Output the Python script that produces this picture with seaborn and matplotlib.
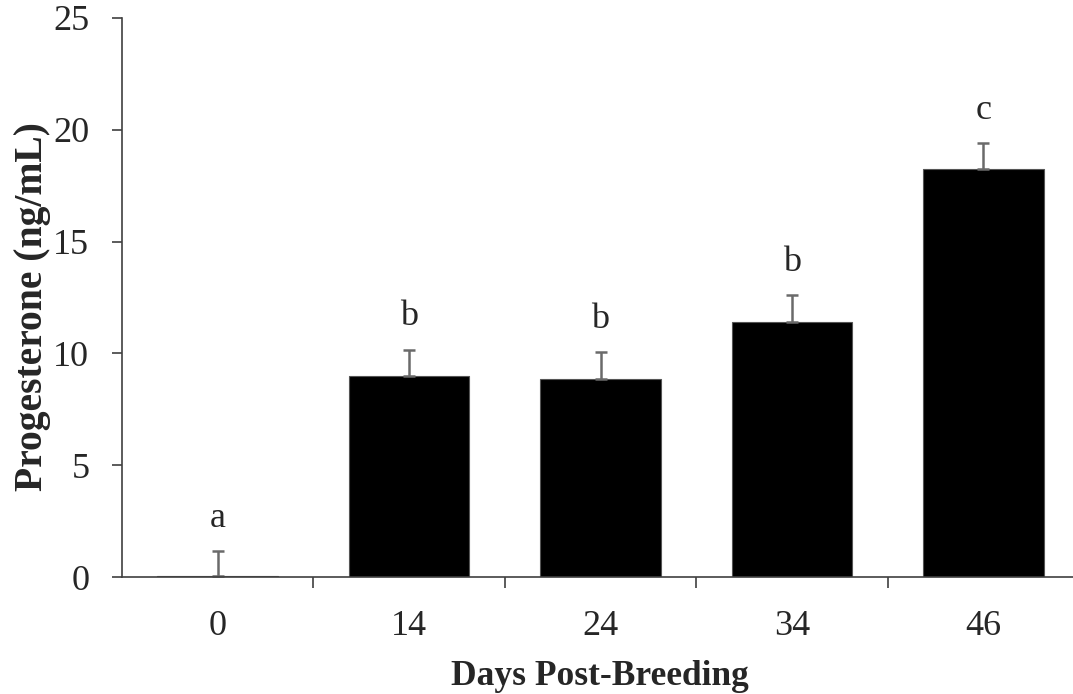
import matplotlib
matplotlib.use("Agg")
import matplotlib.pyplot as plt
import seaborn as sns
import pandas as pd
import numpy as np
from matplotlib.ticker import FixedLocator

days = ["0", "14", "24", "34", "46"]
progesterone = [0.05, 9.0, 8.85, 11.4, 18.25]
sem = [1.1, 1.15, 1.2, 1.2, 1.15]
letters = ["a", "b", "b", "b", "c"]

sns.set_style("white")
plt.rcParams['font.family'] = ['Liberation Serif', 'DejaVu Serif']

df = pd.DataFrame({"Day": days, "P4": progesterone})

fig = plt.figure(figsize=(10.73, 6.94), dpi=100)
ax = fig.add_axes([122/1073, 117/694, 957/1073, 559/694])

sns.barplot(data=df, x="Day", y="P4", color="black", width=0.63,
            edgecolor="#555555", linewidth=0.8, ax=ax, saturation=1)

x = np.arange(len(days))
ax.errorbar(x, progesterone, yerr=[np.zeros(len(sem)), sem], fmt="none",
            ecolor="#6a6a6a", elinewidth=1.8, capsize=4.6, capthick=1.8)

for xi, yi, ei, lt in zip(x, progesterone, sem, letters):
    ax.annotate(lt, (xi, yi + ei), xytext=(0, 12), textcoords="offset points",
                ha="center", va="bottom", fontsize=26)

ax.set_xlim(-0.5, 4.5)
ax.set_ylim(0, 25)
ax.set_yticks([0, 5, 10, 15, 20, 25])
ax.tick_params(axis="y", which="major", direction="out", length=7.5, width=1.2,
               color="#404040", labelsize=26, left=True, pad=16)
ax.tick_params(axis="x", which="major", length=0, labelsize=26, pad=23.5)
ax.xaxis.set_minor_locator(FixedLocator([0.5, 1.5, 2.5, 3.5]))
ax.tick_params(axis="x", which="minor", direction="out", length=8, width=1.2,
               color="#404040", bottom=True)

for s in ["top", "right"]:
    ax.spines[s].set_visible(False)
for s in ["left", "bottom"]:
    ax.spines[s].set_color("#404040")
    ax.spines[s].set_linewidth(1.2)

ax.set_xlabel("Days Post-Breeding", fontsize=25.5, fontweight="bold")
ax.set_ylabel("Progesterone (ng/mL)", fontsize=28.5, fontweight="bold")
ax.xaxis.set_label_coords(0.4995, -0.148)
ax.yaxis.set_label_coords(-0.074, 0.483)

fig.savefig("out.png", dpi=100)
